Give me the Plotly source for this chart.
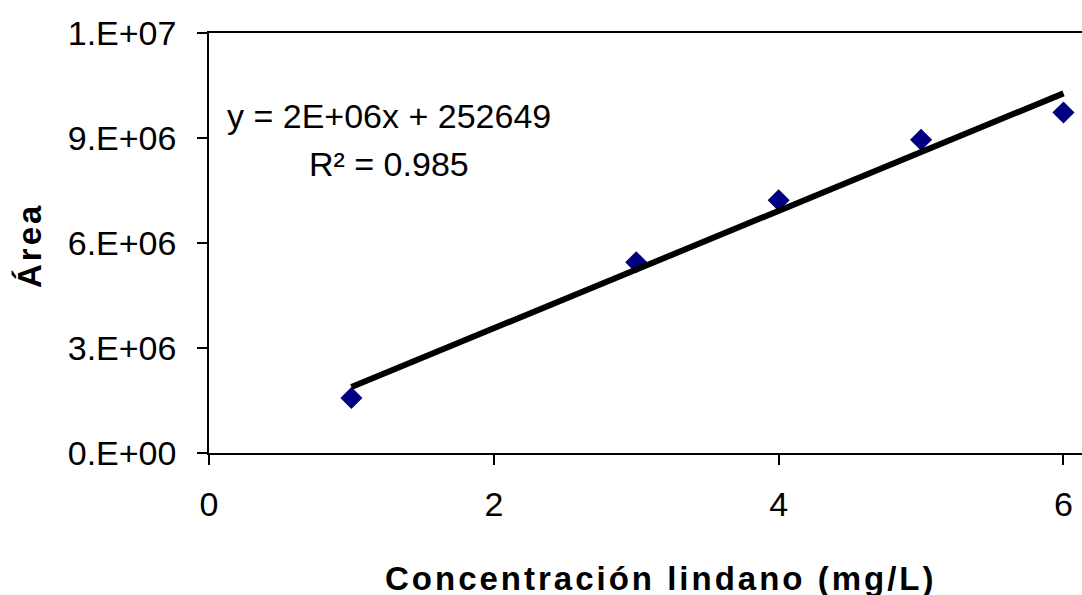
import numpy as np
import plotly.graph_objects as go

# Data
concentracion = [1, 3, 4, 5, 6]            # mg/L
area = [1.57e6, 5.45e6, 7.22e6, 8.95e6, 9.73e6]

x_tickvals = [0, 2, 4, 6]
x_ticktext = ["0", "2", "4", "6"]
y_tickvals = [0, 3e6, 6e6, 9e6, 1.2e7]
y_ticktext = ["0.E+00", "3.E+06", "6.E+06", "9.E+06", "1.E+07"]

eq_text = "y = 2E+06x + 252649"
r2_text = "R² = 0.985"
x_title = "Concentración lindano (mg/L)"
y_title = "Área"

# Linear trendline from data
slope, intercept = np.polyfit(concentracion, area, 1)
x_fit = [min(concentracion), max(concentracion)]
y_fit = [slope * v + intercept for v in x_fit]

FONT = "Liberation Sans, Arial, sans-serif"

fig = go.Figure()
fig.add_trace(go.Scatter(
    x=concentracion, y=area, mode="markers",
    marker=dict(symbol="diamond", size=17, color="#000080",
                line=dict(width=0)),
    showlegend=False, hoverinfo="skip"))
fig.add_trace(go.Scatter(
    x=x_fit, y=y_fit, mode="lines",
    line=dict(color="black", width=6),
    showlegend=False, hoverinfo="skip"))

L, R, T, B = 209, 0, 33, 142
W, H = 1082, 595
pw = W - L - R
ph = H - T - B

def px_x(p):
    return (p - L) / pw

def px_y(p):
    return (H - B - p) / ph

fig.update_layout(
    width=W, height=H,
    margin=dict(l=L, r=R, t=T, b=B, pad=0),
    paper_bgcolor="white", plot_bgcolor="white",
    font=dict(family=FONT, size=34, color="black"),
    xaxis=dict(range=[0, 6.13], tickvals=x_tickvals, ticktext=x_ticktext,
               showgrid=False, zeroline=False, showline=True,
               linecolor="black", linewidth=1.5, mirror=True,
               ticks="outside", ticklen=10, tickwidth=1.5, tickcolor="black",
               ticklabelstandoff=10,
               tickfont=dict(family=FONT, size=34, color="black")),
    yaxis=dict(range=[0, 1.2e7], tickvals=y_tickvals, ticktext=y_ticktext,
               showgrid=False, zeroline=False, showline=True,
               linecolor="black", linewidth=1.5,
               ticks="outside", ticklen=10, tickwidth=1.5, tickcolor="black",
               ticklabelstandoff=14,
               tickfont=dict(family=FONT, size=34, color="black")),
    annotations=[
        dict(text=eq_text, xref="paper", yref="paper",
             x=px_x(389), y=px_y(116), xanchor="center", yanchor="middle",
             showarrow=False, font=dict(family=FONT, size=34, color="black")),
        dict(text=r2_text, xref="paper", yref="paper",
             x=px_x(389), y=px_y(164), xanchor="center", yanchor="middle",
             showarrow=False, font=dict(family=FONT, size=34, color="black")),
        dict(text='<b><span style="letter-spacing:3px">' + x_title + '</span></b>',
             xref="paper", yref="paper",
             x=px_x(661), y=px_y(578), xanchor="center", yanchor="middle",
             showarrow=False, font=dict(family=FONT, size=33, color="black")),
        dict(text='<b><span style="letter-spacing:3px">' + y_title + '</span></b>',
             xref="paper", yref="paper", textangle=-90,
             x=px_x(29), y=px_y(246), xanchor="center", yanchor="middle",
             showarrow=False, font=dict(family=FONT, size=33, color="black")),
    ],
)

fig.write_html("out.html")
